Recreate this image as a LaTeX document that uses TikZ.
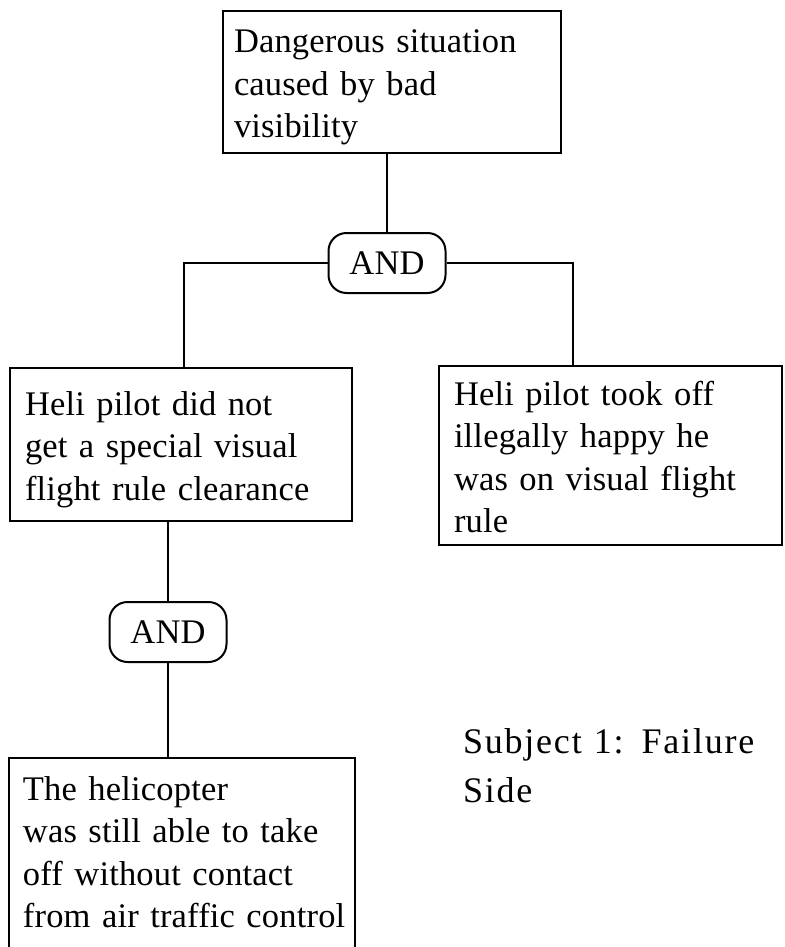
\documentclass[tikz,border=0pt]{standalone}
\usepackage{fontspec}
\setmainfont{Liberation Serif}[LetterSpace=0.5]
\newfontfamily\sidefont{Liberation Serif}[LetterSpace=5]
\begin{document}
\begin{tikzpicture}[x=1pt, y=-1pt,
  line width=2pt,
  box/.style={draw, rectangle, anchor=north west, inner sep=0pt},
  gate/.style={draw, rectangle, rounded corners=18pt, minimum width=117pt,
    minimum height=60pt, inner sep=0pt, font=\fontsize{34.5}{40}\selectfont},
  txt/.style={anchor=base west, inner sep=0pt, align=left,
    font=\fontsize{34.5}{42.5}\selectfont},
  wire/.style={draw, line width=2pt}]
  \clip (0,0) rectangle (784,947);
  \fill[white] (0,0) rectangle (784,947);

  % event boxes
  \node[box, minimum width=338pt, minimum height=142pt] (top) at (222,10) {};
  \node[box, minimum width=342pt, minimum height=153pt] (lbox) at (9,367) {};
  \node[box, minimum width=343pt, minimum height=179pt] (rbox) at (438,365) {};
  \node[box, minimum width=346pt, minimum height=240pt] (bbox) at (8,757) {};

  % box texts
  \node[txt, text width=320pt] (topT) at (233,53)
    {Dangerous situation\\caused by bad\\visibility};
  \node[txt, text width=320pt] (lboxT) at (24,415)
    {Heli pilot did not\\get a special visual\\flight rule clearance};
  \node[txt, text width=320pt] (rboxT) at (453,405)
    {Heli pilot took off\\illegally happy he\\was on visual flight\\rule};
  \node[txt, text width=330pt] (bboxT) at (22,800)
    {The helicopter\\was still able to take\\off without contact\\from air traffic control};

  % AND gates
  \node[gate] (and1) at (387,263) {AND};
  \node[gate] (and2) at (168,632) {AND};

  % connectors
  \draw[wire] (and1.north) -- (and1.north |- top.south);
  \draw[wire] (and1.west) -| ([xshift=3pt]lbox.north);
  \draw[wire] (and1.east) -| ([xshift=-37.5pt]rbox.north);
  \draw[wire] (and2.north) -- (and2.north |- lbox.south);
  \draw[wire] (and2.south) -- (and2.south |- bbox.north);

  % caption
  \node[txt, text width=320pt, font=\sidefont\fontsize{36}{49}\selectfont] (side) at (462,753)
    {Subject 1: Failure\\Side};
\end{tikzpicture}
\end{document}
